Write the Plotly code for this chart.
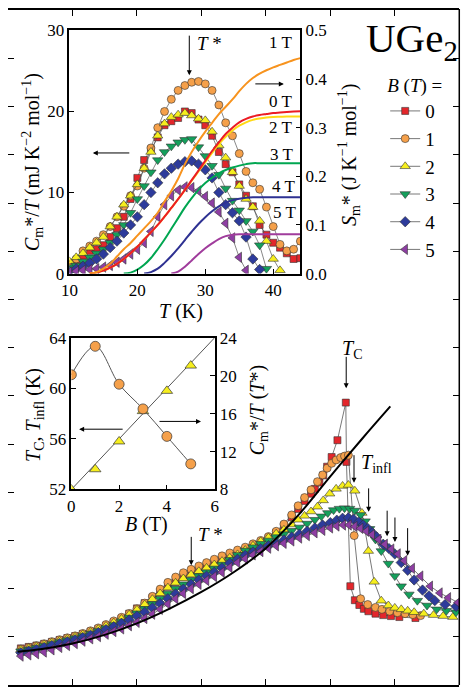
import plotly.graph_objects as go

FONT = "Liberation Serif, Times New Roman, serif"
W, H = 474, 695


def px(x):
    return x / W


def py(y):
    return 1 - y / H


# ---------------- main panel data: C*/T vs T (arb. units) ----------------
B_fields = [0, 1, 2, 3, 4, 5]
T_main_low = [2.0, 3.2, 4.4, 5.6, 6.8, 8.0, 9.2, 10.4, 11.6, 12.8, 14.0, 15.2, 16.4, 17.6,
              18.8, 20.0, 21.2, 22.4, 23.6, 24.8, 26.0, 27.2, 28.4, 29.6, 30.8, 32.0, 33.2,
              34.4, 35.6, 36.8, 38.0, 39.2, 40.4, 41.6, 42.8, 44.0]

C_main_low_B0 = [7.6, 7.9, 8.2, 8.55, 8.95, 9.35, 9.75, 10.15, 10.6, 11.1, 11.65, 12.3, 13.0, 13.8,
                 14.8, 15.9, 17.0, 18.1, 19.3, 20.4, 21.4, 22.4, 23.1, 23.9, 24.6, 25.3, 26.0,
                 26.6, 27.2, 27.9, 28.7, 29.6, 30.5, 31.6, 33.0, 34.8]
T_main_high_B0 = [45.0, 46.0, 47.0, 47.6, 48.3, 48.9, 49.5, 50.2, 51.1, 52.4, 52.5, 53.1, 53.8,
                  54.5, 55.2, 55.9, 57.0, 58.2, 59.4, 60.7, 63.2]
C_main_high_B0 = [36.5, 38.2, 39.7, 40.7, 42.0, 43.5, 45.3, 47.3, 50.8, 58.6, 46.3, 20.5, 17.6,
                  16.6, 15.8, 15.3, 14.8, 14.5, 14.3, 14.1, 13.9]

C_main_low_B1 = [7.45, 7.8, 8.15, 8.55, 9.0, 9.4, 9.8, 10.2, 10.7, 11.25, 11.85, 12.55, 13.3, 14.05,
                 14.85, 15.8, 17.0, 18.4, 19.9, 21.3, 22.4, 23.3, 24.0, 24.7, 25.4, 26.1, 26.8,
                 27.4, 28.0, 28.6, 29.3, 30.0, 30.8, 31.9, 33.4, 35.3]
T_main_high_B1 = [45.0, 46.0, 47.0, 48.0, 48.8, 49.5, 50.2, 50.9, 51.6, 52.2, 52.8, 53.7, 54.7,
                  55.8, 57.0, 58.0, 59.2, 60.4, 61.6, 62.8, 64.0]
C_main_high_B1 = [37.2, 38.9, 40.5, 42.2, 43.6, 45.0, 46.0, 46.7, 47.2, 47.5, 47.7, 31.0, 17.9,
                  16.7, 16.1, 15.7, 15.3, 15.0, 14.8, 14.6, 14.4]

C_main_low_B2 = [7.3, 7.65, 8.0, 8.4, 8.8, 9.2, 9.6, 10.0, 10.5, 11.0, 11.6, 12.25, 12.95, 13.7,
                 14.6, 15.6, 16.7, 17.8, 19.0, 20.2, 21.2, 22.1, 22.9, 23.6, 24.3, 25.0, 25.7,
                 26.4, 27.1, 28.0, 28.9, 29.8, 30.6, 31.4, 32.2, 33.3]
T_main_high_B2 = [45.0, 46.0, 47.0, 48.0, 48.9, 49.9, 50.9, 51.9, 52.8, 53.8, 54.9, 55.9, 56.8,
                  57.9, 59.0, 60.0, 61.0, 62.0, 63.0, 64.5, 66.0, 67.5, 69.0]
C_main_high_B2 = [34.3, 35.1, 36.0, 37.0, 38.3, 39.7, 40.7, 41.3, 41.5, 40.3, 35.7, 27.8, 21.4,
                  17.5, 16.5, 16.0, 15.7, 15.4, 15.1, 14.8, 14.5, 14.3, 14.1]

C_main_low_B3 = [7.0, 7.35, 7.7, 8.1, 8.5, 8.9, 9.3, 9.7, 10.15, 10.65, 11.2, 11.8, 12.45, 13.2,
                 14.0, 14.9, 15.8, 16.8, 17.9, 19.0, 20.0, 20.9, 21.8, 22.6, 23.4, 24.2, 25.0,
                 26.0, 27.0, 27.9, 28.6, 29.3, 30.0, 30.7, 31.3, 32.0]
T_main_high_B3 = [45.2, 46.4, 47.6, 48.6, 49.6, 50.5, 51.4, 52.2, 53.0, 53.8, 54.7, 55.4, 56.1,
                  57.0, 57.9, 59.0, 60.0, 61.0, 62.2, 63.5, 65.0, 66.5, 68.0, 69.5]
C_main_high_B3 = [32.7, 33.5, 34.3, 35.0, 35.7, 36.3, 36.6, 36.7, 36.6, 36.2, 35.3, 34.0, 32.4,
                  30.2, 27.8, 25.2, 22.6, 20.5, 18.8, 17.5, 16.5, 15.7, 15.4, 15.1]

C_main_low_B4 = [6.7, 7.05, 7.4, 7.8, 8.2, 8.6, 9.0, 9.4, 9.85, 10.35, 10.9, 11.5, 12.1, 12.8,
                 13.5, 14.3, 15.1, 16.0, 16.9, 17.9, 18.9, 19.9, 20.9, 21.8, 22.6, 23.4, 24.3,
                 25.3, 26.1, 26.9, 27.6, 28.3, 28.9, 29.5, 30.1, 30.7]
T_main_high_B4 = [45.2, 46.4, 47.6, 48.8, 50.0, 51.0, 51.9, 52.8, 53.6, 54.4, 55.1, 55.8, 56.5,
                  57.2, 58.2, 59.1, 60.0, 61.0, 62.0, 63.0, 64.3, 65.3, 66.2, 67.8, 69.5]
C_main_high_B4 = [31.3, 31.9, 32.6, 33.2, 33.7, 34.2, 34.6, 34.7, 34.4, 33.8, 33.2, 32.5, 31.6,
                  30.7, 29.2, 28.3, 27.2, 25.4, 23.8, 21.8, 19.7, 18.5, 17.5, 16.7, 16.3]

C_main_low_B5 = [6.0, 6.25, 6.5, 6.85, 7.3, 7.8, 8.2, 8.6, 9.1, 9.6, 10.05, 10.55, 11.1, 11.65,
                 12.3, 13.0, 13.8, 14.7, 15.7, 16.8, 17.9, 19.0, 20.0, 20.9, 21.7, 22.5, 23.4,
                 24.4, 25.4, 26.2, 27.0, 27.7, 28.4, 28.9, 29.4, 29.9]
T_main_high_B5 = [45.2, 46.4, 47.6, 48.8, 50.0, 51.0, 52.0, 52.9, 53.8, 54.7, 55.6, 56.5, 57.5,
                  58.5, 59.5, 60.5, 61.5, 62.7, 64.0, 65.5, 67.0, 68.3, 69.8]
C_main_high_B5 = [30.5, 31.0, 31.6, 32.1, 32.6, 33.0, 33.2, 33.2, 32.9, 32.5, 31.9, 31.2, 30.2,
                  29.2, 28.2, 27.2, 25.8, 24.2, 22.6, 20.5, 19.1, 18.1, 17.1]

# background (black) curve
T_bg = [1.5, 5, 10, 15, 20, 25, 30, 35, 40, 45, 50, 55, 59.3]
C_bg = [6.9, 7.4, 8.6, 10.4, 12.8, 15.8, 19.3, 23.4, 28.4, 35.2, 43.3, 51.2, 57.8]

# ---------------- upper inset: C*m/T and S*m vs T ----------------
T_in = list(range(10, 45))
C_in_B0 = [1.2, 1.5, 2.2, 2.8, 3.0, 3.5, 4.5, 5.6, 7.0, 9.2, 11.8, 14.0, 15.3, 16.8, 18.3, 18.8,
           19.2, 20.0, 19.8, 19.0, 18.3, 17.0, 15.0, 13.5, 12.5, 11.0, 9.6, 8.3, 6.0, 4.8, 3.8,
           3.2, 2.5, 1.8, 1.9]
C_in_B1 = [1.0, 1.8, 2.8, 3.4, 4.0, 4.8, 5.8, 7.0, 8.3, 9.6, 10.8, 13.0, 15.5, 18.0, 20.0, 21.5,
           22.6, 23.2, 23.6, 23.7, 23.4, 22.6, 20.8, 18.6, 17.0, 14.8, 12.6, 11.2, 10.4, 8.2, 5.8,
           3.6, 2.8, 3.0, 4.0]
C_in_B2 = [1.5, 2.0, 2.5, 3.2, 3.8, 4.5, 5.8, 7.0, 8.5, 9.6, 11.0, 13.0, 15.0, 17.0, 18.5, 19.3,
           19.6, 19.8, 19.5, 19.1, 18.9, 17.5, 15.8, 14.3, 12.5, 10.8, 9.2, 8.2, 6.5, 4.0, 1.8, 0.4]
C_in_B3 = [0.8, 1.0, 1.5, 2.0, 2.5, 3.0, 3.8, 4.8, 6.0, 7.5, 9.2, 10.8, 12.5, 14.0, 15.0, 15.7,
           16.2, 16.5, 16.6, 15.6, 14.5, 13.3, 12.2, 10.5, 9.0, 7.8, 6.5, 5.2, 3.5, 0.6]
C_in_B4 = [0.3, 0.6, 0.9, 1.3, 1.8, 2.4, 3.2, 4.0, 5.0, 6.0, 7.0, 8.5, 10.0, 11.2, 12.3, 13.0,
           13.5, 13.8, 13.9, 13.5, 12.8, 11.8, 10.0, 8.5, 7.5, 6.5, 4.5, 1.8, 0.5]
C_in_B5 = [0.2, 0.3, 0.4, 0.5, 0.6, 0.8, 1.0, 1.4, 1.8, 2.4, 3.0, 3.8, 5.2, 7.0, 8.5, 9.6, 10.3,
           10.7, 10.6, 10.2, 9.5, 8.7, 7.6, 6.2, 4.4, 2.0, 0.4]

T_S_B0 = list(range(13, 45))
S_B0 = [0.0, 0.002, 0.006, 0.012, 0.02, 0.03, 0.042, 0.055, 0.07, 0.085, 0.1, 0.117, 0.135,
        0.153, 0.172, 0.192, 0.212, 0.232, 0.252, 0.27, 0.287, 0.3, 0.311, 0.318, 0.323, 0.326,
        0.328, 0.33, 0.331, 0.332, 0.333, 0.334]
T_S_B1 = list(range(13, 45))
S_B1 = [0.0, 0.003, 0.01, 0.02, 0.035, 0.05, 0.063, 0.078, 0.093, 0.108, 0.125, 0.148, 0.17,
        0.195, 0.225, 0.25, 0.272, 0.292, 0.31, 0.328, 0.343, 0.358, 0.375, 0.39, 0.402, 0.411,
        0.418, 0.424, 0.429, 0.434, 0.439, 0.443]
T_S_B2 = list(range(13, 45))
S_B2 = [0.0, 0.002, 0.006, 0.012, 0.02, 0.03, 0.042, 0.055, 0.07, 0.085, 0.1, 0.117, 0.135,
        0.153, 0.172, 0.191, 0.21, 0.229, 0.248, 0.266, 0.281, 0.294, 0.304, 0.311, 0.316, 0.319,
        0.321, 0.322, 0.3225, 0.323, 0.323, 0.323]
T_S_B3 = list(range(18, 45))
S_B3 = [0.0, 0.002, 0.008, 0.018, 0.032, 0.05, 0.07, 0.092, 0.114, 0.136, 0.155, 0.172, 0.186,
        0.197, 0.206, 0.213, 0.218, 0.222, 0.225, 0.227, 0.227, 0.227, 0.227, 0.227, 0.227,
        0.227, 0.227]
T_S_B4 = list(range(21, 45))
S_B4 = [0.0, 0.003, 0.01, 0.022, 0.036, 0.052, 0.069, 0.086, 0.102, 0.116, 0.128, 0.138, 0.146,
        0.151, 0.154, 0.156, 0.157, 0.157, 0.157, 0.157, 0.157, 0.157, 0.157, 0.157]
T_S_B5 = list(range(25, 45))
S_B5 = [0.0, 0.004, 0.014, 0.027, 0.04, 0.052, 0.062, 0.071, 0.077, 0.08, 0.081, 0.081, 0.081,
        0.081, 0.081, 0.081, 0.081, 0.081, 0.081, 0.081]

# ---------------- lower inset: T_C and C*/T(T*) vs B ----------------
B_inset = [0, 1, 2, 3, 4, 5]
T_C_inset = [52.0, 53.6, 55.8, 58.2, 59.8, 61.8]
CT_star = [20.1, 23.1, 19.1, 16.5, 13.6, 10.7]
B_fit = [0, 6]
T_fit = [52.0, 64.0]

# ---------------- styling ----------------
sym = {0: "square", 1: "circle", 2: "triangle-up", 3: "triangle-down", 4: "diamond", 5: "triangle-left"}
fill = {0: "#e3262b", 1: "#f5a04a", 2: "#f6ee1e", 3: "#14a05c", 4: "#2d3b9b", 5: "#8e3ea3"}
msize = {0: 7, 1: 8, 2: 9, 3: 9, 4: 8, 5: 9}
scol = {0: "#ec1c24", 1: "#f7931e", 2: "#ffd915", 3: "#00a651", 4: "#2e3192", 5: "#a03c9c"}

main_low = {0: C_main_low_B0, 1: C_main_low_B1, 2: C_main_low_B2, 3: C_main_low_B3,
            4: C_main_low_B4, 5: C_main_low_B5}
main_hT = {0: T_main_high_B0, 1: T_main_high_B1, 2: T_main_high_B2, 3: T_main_high_B3,
           4: T_main_high_B4, 5: T_main_high_B5}
main_hC = {0: C_main_high_B0, 1: C_main_high_B1, 2: C_main_high_B2, 3: C_main_high_B3,
           4: C_main_high_B4, 5: C_main_high_B5}
inC = {0: C_in_B0, 1: C_in_B1, 2: C_in_B2, 3: C_in_B3, 4: C_in_B4, 5: C_in_B5}
sT = {0: T_S_B0, 1: T_S_B1, 2: T_S_B2, 3: T_S_B3, 4: T_S_B4, 5: T_S_B5}
sS = {0: S_B0, 1: S_B1, 2: S_B2, 3: S_B3, 4: S_B4, 5: S_B5}

fig = go.Figure()

for b in B_fields:
    fig.add_trace(go.Scatter(
        x=T_main_low + main_hT[b], y=main_low[b] + main_hC[b],
        mode="lines+markers", name=str(b),
        line=dict(color="#555555", width=0.8),
        marker=dict(symbol=sym[b], size=msize[b], color=fill[b],
                    line=dict(color="#333333", width=0.6)),
        xaxis="x", yaxis="y"))

fig.add_trace(go.Scatter(x=T_bg, y=C_bg, mode="lines", line=dict(color="black", width=2, shape="spline"),
                         showlegend=False, xaxis="x", yaxis="y"))

for b in B_fields:
    c = inC[b]
    fig.add_trace(go.Scatter(
        x=T_in[:len(c)], y=c, mode="lines+markers", showlegend=False,
        line=dict(color="#555555", width=0.7),
        marker=dict(symbol=sym[b], size=msize[b], color=fill[b],
                    line=dict(color="#333333", width=0.6)),
        xaxis="x2", yaxis="y2"))

for b in [2, 0, 1, 3, 4, 5]:
    fig.add_trace(go.Scatter(
        x=sT[b], y=sS[b], mode="lines", showlegend=False,
        line=dict(color=scol[b], width=2, shape="spline"),
        xaxis="x2", yaxis="y5"))

fig.add_trace(go.Scatter(x=B_fit, y=T_fit, mode="lines", showlegend=False,
                         line=dict(color="#555555", width=1), xaxis="x3", yaxis="y3"))
fig.add_trace(go.Scatter(x=B_inset, y=T_C_inset, mode="markers", showlegend=False,
                         marker=dict(symbol="triangle-up", size=10, color=fill[2],
                                     line=dict(color="#333333", width=0.7)),
                         xaxis="x3", yaxis="y3"))
fig.add_trace(go.Scatter(x=B_inset, y=CT_star, mode="lines+markers", showlegend=False,
                         line=dict(color="#555555", width=1, shape="spline", smoothing=1.0),
                         marker=dict(symbol="circle", size=10, color=fill[1],
                                     line=dict(color="#333333", width=0.7)),
                         xaxis="x3", yaxis="y4"))

tickfont = dict(family=FONT, size=17, color="black")
common = dict(showgrid=False, zeroline=False, showline=True, linecolor="black",
              ticks="inside", tickcolor="black")
main_common = dict(showgrid=False, zeroline=False, ticks="inside", tickcolor="black",
                   linecolor="black", showticklabels=False, mirror="ticks", ticklen=6,
                   linewidth=1.5)

layout = dict(
    width=W, height=H, margin=dict(l=0, r=0, t=0, b=0, pad=0),
    paper_bgcolor="white", plot_bgcolor="rgba(0,0,0,0)",
    font=dict(family=FONT, size=17, color="black"),
    xaxis=dict(domain=[0, 463 / W], range=[0, 70], dtick=10, tick0=0, showline=True, **main_common),
    yaxis=dict(domain=[0, 0.998], range=[0, 140], dtick=10, tick0=0, showline=False, **main_common),
    xaxis2=dict(domain=[px(63), px(300)], anchor="y2", range=[10, 44], tickvals=[10, 20, 30, 40],
                ticklen=5, linewidth=1.5, mirror=True, tickfont=tickfont, **common),
    yaxis2=dict(domain=[py(272), py(22)], anchor="x2", range=[0, 30], tickvals=[0, 10, 20, 30],
                ticklen=5, linewidth=1.5, mirror=True, tickfont=tickfont, **common),
    yaxis5=dict(overlaying="y2", side="right", anchor="x2", range=[0, 0.5],
                tickvals=[0, 0.1, 0.2, 0.3, 0.4, 0.5], tickformat=".1f",
                ticklen=5, linewidth=1.5, tickfont=tickfont, **common),
    xaxis3=dict(domain=[px(65), px(212)], anchor="y3", range=[0, 6], tickvals=[0, 2, 4, 6],
                ticklen=5, linewidth=1.5, mirror=True, tickfont=tickfont, **common),
    yaxis3=dict(domain=[py(494), py(338)], anchor="x3", range=[52, 64], tickvals=[52, 56, 60, 64],
                ticklen=5, linewidth=1.5, mirror=True, tickfont=tickfont, **common),
    yaxis4=dict(overlaying="y3", side="right", anchor="x3", range=[8, 24],
                tickvals=[8, 12, 16, 20, 24], ticklen=5, linewidth=1.5, tickfont=tickfont, **common),
    legend=dict(x=px(387), y=py(60), xanchor="left", yanchor="top",
                bgcolor="rgba(0,0,0,0)", borderwidth=0, tracegroupgap=0,
                font=dict(family=FONT, size=19, color="black"),
                title=dict(text="<i>B</i> (<i>T</i>) =", font=dict(family=FONT, size=19))),
    showlegend=True,
    shapes=[dict(type="line", xref="paper", yref="paper", x0=px(463), x1=px(463), y0=0, y1=1,
                 line=dict(color="black", width=1.5))],
)
fig.update_layout(**layout)


def text(x, y, s, size=17, xanchor="center", angle=0):
    fig.add_annotation(x=px(x), y=py(y), xref="paper", yref="paper", text=s, showarrow=False,
                       xanchor=xanchor, yanchor="middle", textangle=angle,
                       font=dict(family=FONT, size=size, color="black"))


def arrow(xh, yh, xt, yt):
    fig.add_annotation(x=px(xh), y=py(yh), xref="paper", yref="paper", text="",
                       showarrow=True, ax=xt - xh, ay=yt - yh, arrowhead=2, arrowsize=1,
                       arrowwidth=1, arrowcolor="black", standoff=0, startstandoff=0)


# big compound label
text(414, 33, "UGe<sub>2</sub>", size=41)

# upper inset labels
for lab, yy, xr in [("1 T", 34, 293), ("0 T", 95, 293), ("2 T", 122, 293), ("3 T", 150, 294),
                    ("4 T", 182, 297), ("5 T", 209, 298)]:
    text(xr, yy, lab, size=17, xanchor="right")
text(192, 35, "<i>T</i> *", size=19, xanchor="left")
arrow(186, 68, 186, 27)
arrow(87, 148, 125, 148)
arrow(283, 77, 253, 77)

# axis titles (upper inset)
text(25, 157, "<i>C</i><sub>m</sub>*/<i>T</i> (mJ K<sup>−2</sup> mol<sup>−1</sup>)", size=20, angle=-90)
text(350, 150, "<i>S</i><sub>m</sub>* (J K<sup>−1</sup> mol<sup>−1</sup>)", size=20, angle=-90)
text(178, 311, "<i>T</i> (K)", size=20)

# lower inset
text(27, 417, "<i>T</i><sub>C</sub>, <i>T</i><sub>infl</sub> (K)", size=20, angle=-90)
text(257, 412, "<i>C</i><sub>m</sub>*/<i>T</i> (<i>T</i>*)", size=20, angle=-90)
text(142, 530, "<i>B</i> (T)", size=20)
arrow(73, 432, 118, 432)
arrow(198, 424, 155, 424)

# main panel annotations
text(353, 350, "<i>T</i><sub>C</sub>", size=20)
arrow(347, 390, 347, 357)
text(360, 467, "<i>T</i><sub>infl</sub>", size=20, xanchor="left")
arrow(355, 487, 355, 458)
arrow(370, 517, 370, 492)
arrow(389, 542, 389, 515)
arrow(397, 548, 397, 522)
arrow(410, 562, 410, 533)
text(193, 540, "<i>T</i> *", size=19, xanchor="left")
arrow(188, 572, 188, 542)

fig.write_html("out.html", config={"displayModeBar": False},
               post_script="document.body.style.margin='0px';document.body.style.overflow='hidden';")
